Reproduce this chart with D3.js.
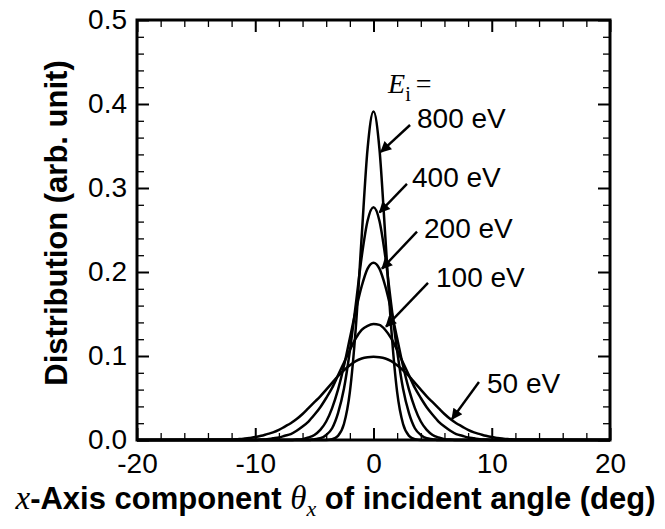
<!DOCTYPE html>
<html>
<head>
<meta charset="utf-8">
<script src="https://cdn.jsdelivr.net/npm/d3@7"></script>
<style>
  html, body { margin: 0; padding: 0; background: #fff; }
  svg { display: block; }
  text { font-family: "Liberation Sans", Arial, sans-serif; fill: #000; }
  .serif { font-family: "Liberation Serif", "Times New Roman", serif; }
</style>
</head>
<body>
<svg id="chart" width="665" height="529"></svg>
<script>
// ---------------- data ----------------
const thetaX = [-20,
  -12,-11.5,-11,-10.5,-10,-9.5,-9,-8.5,-8,-7.5,-7,-6.5,-6,-5.5,-5,-4.5,-4,-3.5,-3,-2.5,-2,-1.5,-1,-0.5,
  0,
  0.5,1,1.5,2,2.5,3,3.5,4,4.5,5,5.5,6,6.5,7,7.5,8,8.5,9,9.5,10,10.5,11,11.5,12,
  20];

const e800 = [0,
  0,0,0,0,0,0,0,0,0,0,0,0,0,0,0,0,0, 0.001,0.005,0.019,0.057,0.133,0.242,0.347,
  0.391,
  0.347,0.242,0.133,0.057,0.019,0.005,0.001, 0,0,0,0,0,0,0,0,0,0,0,0,0,0,0,0,0,
  0];

const e400 = [0,
  0,0,0,0,0,0,0,0,0,0,0,0,0,0, 0.001,0.002,0.006,0.014,0.032,0.061,0.106,0.161,0.218,0.261,
  0.277,
  0.261,0.218,0.161,0.106,0.061,0.032,0.014,0.006,0.002,0.001, 0,0,0,0,0,0,0,0,0,0,0,0,0,0,
  0];

const e200 = [0,
  0,0,0,0,0,0,0,0,0,0,0, 0.0005,0.001,0.003,0.006,0.012,0.022,0.038,0.060,0.088,0.121,0.154,0.183,0.204,
  0.211,
  0.204,0.183,0.154,0.121,0.088,0.060,0.038,0.022,0.012,0.006,0.003,0.001,0.0005, 0,0,0,0,0,0,0,0,0,0,0,
  0];

const e100 = [0,
  0,0,0,0,0, 0.0005,0.001,0.002,0.003,0.005,0.007,0.011,0.016,0.022,0.030,0.039,0.050,0.062,0.077,0.092,0.107,0.121,0.131,0.136,
  0.138,
  0.137,0.131,0.121,0.107,0.092,0.077,0.062,0.050,0.039,0.030,0.022,0.016,0.011,0.007,0.005,0.003,0.002,0.001,0.0005, 0,0,0,0,0,
  0];

const e50 = [0,
  0.0005,0.001,0.0015,0.0025,0.0035,0.005,0.007,0.009,0.012,0.016,0.020,0.025,0.031,0.038,0.045,0.052,0.060,0.068,0.076,0.083,0.089,0.094,0.097,0.0985,
  0.099,
  0.0985,0.097,0.094,0.089,0.083,0.076,0.068,0.060,0.052,0.045,0.038,0.031,0.025,0.020,0.016,0.012,0.009,0.007,0.005,0.0035,0.0025,0.0015,0.001,0.0005,
  0];

const seriesNames = ["800 eV", "400 eV", "200 eV", "100 eV", "50 eV"];
const seriesValues = [e800, e400, e200, e100, e50];

// label anchor (theta, value), arrow start, arrow end, in data units
const labelPos   = [[3.68, 0.371], [3.26, 0.301], [4.27, 0.240], [5.29, 0.182], [9.60, 0.056]];
const arrowFrom  = [[3.09, 0.375], [2.83, 0.305], [3.68, 0.248], [4.61, 0.187], [8.92, 0.069]];
const arrowTo    = [[0.63, 0.343], [0.51, 0.271], [0.72, 0.204], [1.06, 0.135], [6.64, 0.025]];
const eiLabelPos = [1.23, 0.413];

const xMajor = [-20, -10, 0, 10, 20];
const xMajorLabels = ["-20", "-10", "0", "10", "20"];
const xMinor = [-18,-16,-14,-12,-8,-6,-4,-2,2,4,6,8,12,14,16,18];
const yMajor = [0, 0.1, 0.2, 0.3, 0.4, 0.5];
const yMajorLabels = ["0.0", "0.1", "0.2", "0.3", "0.4", "0.5"];
const yMinor = [0.02,0.04,0.06,0.08,0.12,0.14,0.16,0.18,0.22,0.24,0.26,0.28,0.32,0.34,0.36,0.38,0.42,0.44,0.46,0.48];

// ---------------- layout ----------------
const L = 137, R = 610, T = 20, B = 440;
const svg = d3.select("#chart");
const x = d3.scaleLinear().domain([-20, 20]).range([L, R]);
const y = d3.scaleLinear().domain([0, 0.5]).range([B, T]);

// curves
const line = d3.line().x(d => x(d[0])).y(d => y(d[1])).curve(d3.curveMonotoneX);
svg.append("g").selectAll("path").data(seriesValues).join("path")
  .attr("d", vals => line(thetaX.map((t, i) => [t, vals[i]])))
  .attr("fill", "none").attr("stroke", "#000").attr("stroke-width", 2.5)
  .attr("stroke-linejoin", "round");

// axes (ticks inward)
function styleAxis(g, w) {
  g.select(".domain").remove();
  g.selectAll(".tick line").attr("stroke", "#000").attr("stroke-width", w);
}
const FS = 28;
// bottom
svg.append("g").attr("transform", `translate(0,${B})`)
  .call(d3.axisBottom(x).tickValues(xMinor).tickSize(-7).tickFormat(""))
  .call(g => styleAxis(g, 1.3));
const gb = svg.append("g").attr("transform", `translate(0,${B})`)
  .call(d3.axisBottom(x).tickValues(xMajor).tickSize(-12).tickPadding(13)
    .tickFormat((d, i) => xMajorLabels[i]))
  .call(g => styleAxis(g, 2));
gb.selectAll("text").attr("font-size", FS).attr("font-family", "Liberation Sans, Arial, sans-serif").attr("fill", "#000");
// top
svg.append("g").attr("transform", `translate(0,${T})`)
  .call(d3.axisTop(x).tickValues(xMinor).tickSize(-7).tickFormat(""))
  .call(g => styleAxis(g, 1.3));
svg.append("g").attr("transform", `translate(0,${T})`)
  .call(d3.axisTop(x).tickValues(xMajor).tickSize(-12).tickFormat(""))
  .call(g => styleAxis(g, 2));
// left
svg.append("g").attr("transform", `translate(${L},0)`)
  .call(d3.axisLeft(y).tickValues(yMinor).tickSize(-7).tickFormat(""))
  .call(g => styleAxis(g, 1.3));
const gl = svg.append("g").attr("transform", `translate(${L},0)`)
  .call(d3.axisLeft(y).tickValues(yMajor).tickSize(-12).tickPadding(10)
    .tickFormat((d, i) => yMajorLabels[i]))
  .call(g => styleAxis(g, 2));
gl.selectAll("text").attr("font-size", FS).attr("font-family", "Liberation Sans, Arial, sans-serif").attr("fill", "#000");
// right
svg.append("g").attr("transform", `translate(${R},0)`)
  .call(d3.axisRight(y).tickValues(yMinor).tickSize(-7).tickFormat(""))
  .call(g => styleAxis(g, 1.3));
svg.append("g").attr("transform", `translate(${R},0)`)
  .call(d3.axisRight(y).tickValues(yMajor).tickSize(-12).tickFormat(""))
  .call(g => styleAxis(g, 2));

// frame
svg.append("rect").attr("x", L).attr("y", T).attr("width", R - L).attr("height", B - T)
  .attr("fill", "none").attr("stroke", "#000").attr("stroke-width", 3);

// annotations
const defs = svg.append("defs");
defs.append("marker").attr("id", "ah").attr("viewBox", "0 0 10 10")
  .attr("refX", 9).attr("refY", 5).attr("markerWidth", 5.5).attr("markerHeight", 4.6)
  .attr("markerUnits", "strokeWidth").attr("orient", "auto")
  .append("path").attr("d", "M0,0 L10,5 L0,10 Z").attr("fill", "#000");

const ann = svg.append("g");
ann.selectAll("line").data(seriesNames).join("line")
  .attr("x1", (d, i) => x(arrowFrom[i][0])).attr("y1", (d, i) => y(arrowFrom[i][1]))
  .attr("x2", (d, i) => x(arrowTo[i][0])).attr("y2", (d, i) => y(arrowTo[i][1]))
  .attr("stroke", "#000").attr("stroke-width", 2.4).attr("marker-end", "url(#ah)");
ann.selectAll("text.lbl").data(seriesNames).join("text").attr("class", "lbl")
  .attr("x", (d, i) => x(labelPos[i][0])).attr("y", (d, i) => y(labelPos[i][1]))
  .attr("font-size", FS).text(d => d);

const ei = ann.append("text").attr("class", "serif")
  .attr("x", x(eiLabelPos[0])).attr("y", y(eiLabelPos[1])).attr("font-size", 28);
ei.append("tspan").attr("font-style", "italic").text("E");
ei.append("tspan").attr("font-size", 20).attr("dy", 8).text("i");
ei.append("tspan").attr("dy", -8).attr("dx", 5).text("=");

// axis titles
const xt = svg.append("text").attr("x", 335.5).attr("y", 509)
  .attr("text-anchor", "middle").attr("font-size", 31).attr("font-weight", "bold");
xt.append("tspan").attr("class", "serif").attr("font-style", "italic").attr("font-weight", "normal")
  .attr("font-size", 33).text("x");
xt.append("tspan").text("-Axis component ");
xt.append("tspan").attr("class", "serif").attr("font-style", "italic").attr("font-weight", "normal")
  .attr("font-size", 33).text("θ");
xt.append("tspan").attr("class", "serif").attr("font-style", "italic").attr("font-weight", "normal")
  .attr("font-size", 22).attr("dy", 7).text("x");
xt.append("tspan").attr("dy", -7).text(" of incident angle (deg)");

svg.append("text").attr("transform", `translate(67,223) rotate(-90)`)
  .attr("text-anchor", "middle").attr("font-size", 31).attr("font-weight", "bold")
  .text("Distribution (arb. unit)");
</script>
</body>
</html>
